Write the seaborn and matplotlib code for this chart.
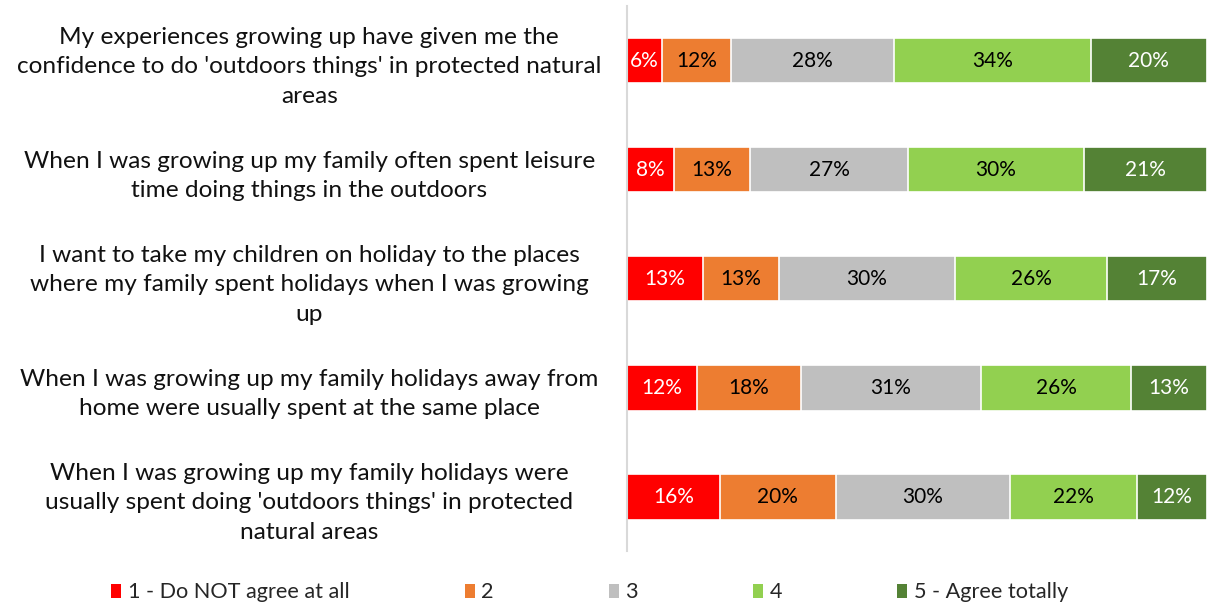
import numpy as np
import pandas as pd
import seaborn as sns
import matplotlib.pyplot as plt
from matplotlib.patches import Patch

# statements (top to bottom)
statements = [
    "My experiences growing up have given me the\nconfidence to do 'outdoors things' in protected natural\nareas",
    "When I was growing up my family often spent leisure\ntime doing things in the outdoors",
    "I want to take my children on holiday to the places\nwhere my family spent holidays when I was growing\nup",
    "When I was growing up my family holidays away from\nhome were usually spent at the same place",
    "When I was growing up my family holidays were\nusually spent doing 'outdoors things' in protected\nnatural areas",
]

levels = ["1 - Do NOT agree at all", "2", "3", "4", "5 - Agree totally"]

# percentages per level, one value per statement
lvl1 = [6, 8, 13, 12, 16]
lvl2 = [12, 13, 13, 18, 20]
lvl3 = [28, 27, 30, 31, 30]
lvl4 = [34, 30, 26, 26, 22]
lvl5 = [20, 21, 17, 13, 12]

colors = ["#FF0000", "#ED7D31", "#BFBFBF", "#92D050", "#548235"]
text_colors = ["white", "black", "black", "black", "white"]

sns.set_style("white")
plt.rcParams['font.family'] = ['Lato', 'DejaVu Sans']

df = pd.DataFrame({"statement": statements})
vals = np.array([lvl1, lvl2, lvl3, lvl4, lvl5], dtype=float)
# 100% stacked: scale each row to its total
shares = vals / vals.sum(axis=0) * 100
cum = np.cumsum(shares, axis=0)

fig = plt.figure(figsize=(12.08, 6.05), dpi=100)
ax = fig.add_axes([0.519, 0.089, 0.48, 0.901])

# draw cumulative bars from widest to narrowest so they stack
for i in reversed(range(len(levels))):
    df["cum"] = cum[i]
    sns.barplot(data=df, x="cum", y="statement", color=colors[i], width=0.42,
                edgecolor="white", linewidth=1.2, saturation=1, ax=ax, orient="h")

# value labels
for i in range(len(levels)):
    left = cum[i] - shares[i]
    for j in range(len(statements)):
        ax.text(left[j] + shares[i][j] / 2, j, f"{vals[i][j]:.0f}%",
                ha="center", va="center", fontsize=15, color=text_colors[i])

ax.set_xlim(0, 100)
ax.set_ylim(len(statements) - 0.5, -0.5)
ax.set_xlabel("")
ax.set_ylabel("")
ax.set_xticks([])
ax.tick_params(axis="y", length=0, pad=0)
for lab in ax.get_yticklabels():
    lab.set_ha("center")
    lab.set_multialignment("center")
    lab.set_fontsize(17.6)
    lab.set_color("#111111")
    lab.set_linespacing(1.5)
    lab.set_x(-0.548)

for s in ["top", "right", "bottom"]:
    ax.spines[s].set_visible(False)
ax.spines["left"].set_color("#D9D9D9")
ax.spines["left"].set_linewidth(1.5)

handles = [Patch(facecolor=c, edgecolor="none") for c in colors]
fig.legend(handles, levels, loc="center", bbox_to_anchor=(0.488, 0.021), ncol=5,
           frameon=False, fontsize=15.6, handlelength=0.47, handleheight=0.6,
           handletextpad=0.3, columnspacing=5.3)

fig.savefig("out.png", dpi=100)
